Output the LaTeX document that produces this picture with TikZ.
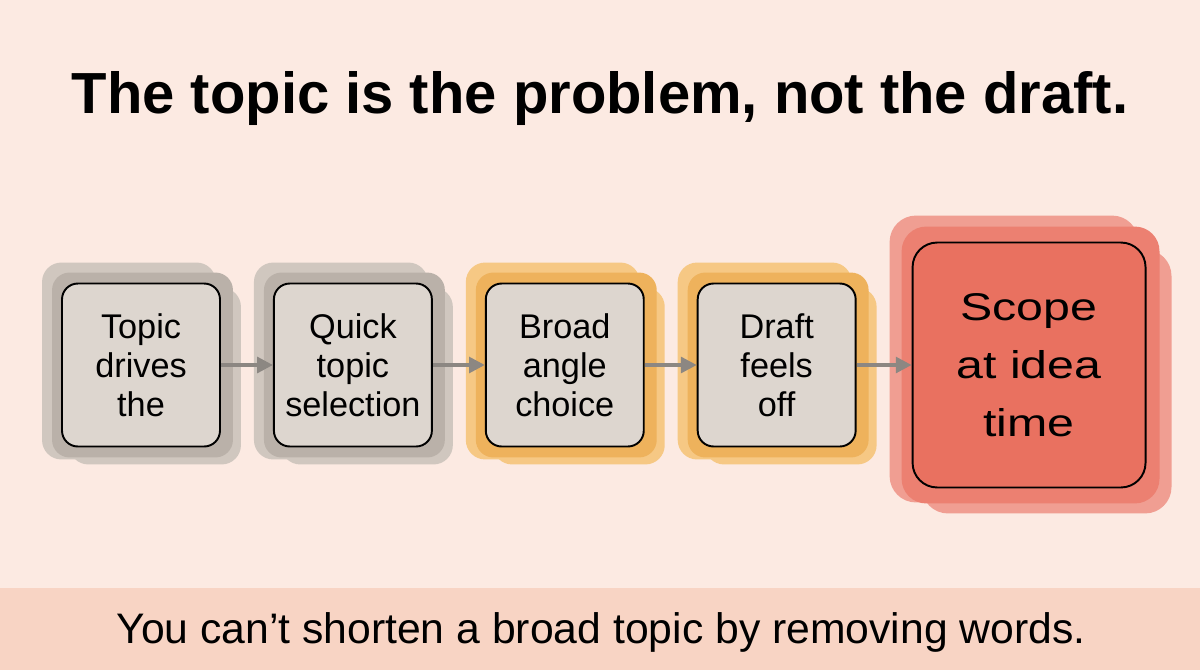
\documentclass[tikz,border=0pt]{standalone}
\usepackage{fontspec}
\setmainfont{Liberation Sans}
\newfontfamily\widesans[FakeStretch=1.25]{Liberation Sans}
\usetikzlibrary{positioning}
\usetikzlibrary{calc}
\usetikzlibrary{arrows.meta}
\usetikzlibrary{backgrounds}
\definecolor{paper}{RGB}{252,234,226}
\definecolor{band}{RGB}{248,212,196}
\definecolor{boxfill}{RGB}{221,214,207}
\definecolor{greylo}{RGB}{208,199,191}
\definecolor{greyhi}{RGB}{186,177,169}
\definecolor{amberlo}{RGB}{246,200,132}
\definecolor{amberhi}{RGB}{238,178,92}
\definecolor{redlo}{RGB}{240,158,146}
\definecolor{redhi}{RGB}{236,128,113}
\definecolor{redfill}{RGB}{233,113,96}
\definecolor{linkgrey}{RGB}{140,135,130}

\begin{document}
\begin{tikzpicture}[x=0.02cm, y=-0.02cm,
    stage/.style={draw=black, line width=1.1pt, fill=boxfill, rounded corners=9pt,
        minimum width=3.16cm, minimum height=3.26cm, inner sep=0pt, align=center,
        font=\fontsize{19.5}{22.2}\selectfont},
    goal/.style={stage, fill=redfill, rounded corners=14pt,
        minimum width=4.66cm, minimum height=4.9cm,
        font=\widesans\fontsize{22}{33}\selectfont},
    link/.style={draw=linkgrey, line width=1.9pt, -{Triangle[length=9pt,width=9pt]}}]
    \useasboundingbox (0,0) rectangle (1200,670);

    % headline and moral
    \node[anchor=base, font=\bfseries\fontsize{33}{40}\selectfont] (title) at (600,113)
        {The topic is the problem, not the draft.};
    \node[anchor=base, font=\fontsize{24.3}{28}\selectfont] (moral) at (601,643)
        {You can’t shorten a broad topic by removing words.};

    % the chain
    \node[stage] (topic) at (141,365) {Topic\\drives\\the};
    \node[stage, right=1.04cm of topic] (quick) {Quick\\topic\\selection};
    \node[stage, right=1.04cm of quick] (broad) {Broad\\angle\\choice};
    \node[stage, right=1.04cm of broad] (draft) {Draft\\feels\\off};
    \node[goal, right=1.1cm of draft] (scope) {Scope\\at idea\\time};

    \begin{pgfonlayer}{background}
        \fill[paper] (0,0) rectangle (1200,670);
        \fill[band] (0,588) rectangle (1200,670);
        \foreach \b/\lo/\hi in {topic/greylo/greyhi, quick/greylo/greyhi,
                                broad/amberlo/amberhi, draft/amberlo/amberhi} {
            \fill[\lo, rounded corners=11pt] ($(\b.north west)+(-19,-20)$) rectangle ($(\b.south east)+(-5,12)$);
            \fill[\lo, rounded corners=11pt] ($(\b.north west)+(8,5)$) rectangle ($(\b.south east)+(20,17)$);
            \fill[\hi, rounded corners=10pt] ($(\b.north west)+(-9,-10)$) rectangle ($(\b.south east)+(12,10)$);
        }
        \fill[redlo, rounded corners=15pt] ($(scope.north west)+(-22,-26)$) rectangle ($(scope.south east)+(-8,14)$);
        \fill[redlo, rounded corners=15pt] ($(scope.north west)+(10,8)$) rectangle ($(scope.south east)+(25,25)$);
        \fill[redhi, rounded corners=14pt] ($(scope.north west)+(-10,-15)$) rectangle ($(scope.south east)+(13,15)$);
    \end{pgfonlayer}

    \draw[link] (topic) -- (quick);
    \draw[link] (quick) -- (broad);
    \draw[link] (broad) -- (draft);
    \draw[link] (draft) -- (scope);
\end{tikzpicture}
\end{document}
